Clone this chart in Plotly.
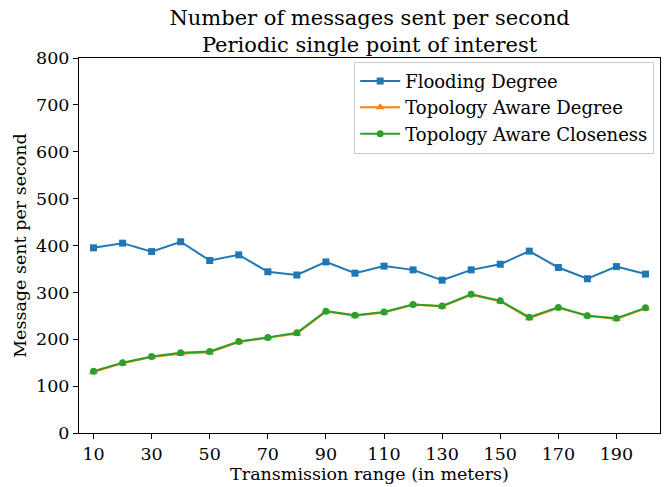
import plotly.graph_objects as go

# transmission range (m)
ranges = [10, 20, 30, 40, 50, 60, 70, 80, 90, 100,
          110, 120, 130, 140, 150, 160, 170, 180, 190, 200]

flooding_degree = [395, 405, 387, 408, 368, 380, 344, 337, 365, 341,
                   356, 348, 326, 348, 360, 388, 353, 329, 355, 339]
topo_degree = [130, 149, 162, 169, 172, 194, 203, 212, 259, 250,
               257, 274, 270, 295, 281, 245, 267, 250, 243, 266]
topo_closeness = [132, 150, 163, 171, 174, 195, 204, 214, 260, 251,
                  258, 274, 271, 296, 282, 247, 268, 250, 245, 267]

x_ticks = [10, 30, 50, 70, 90, 110, 130, 150, 170, 190]
y_ticks = [0, 100, 200, 300, 400, 500, 600, 700, 800]

FONT = "DejaVu Serif"

fig = go.Figure()
fig.add_trace(go.Scatter(x=ranges, y=flooding_degree, mode="lines+markers",
                         name="Flooding Degree",
                         line=dict(color="#1f77b4", width=2),
                         marker=dict(symbol="square", size=7, color="#1f77b4")))
fig.add_trace(go.Scatter(x=ranges, y=topo_degree, mode="lines+markers",
                         name="Topology Aware Degree",
                         line=dict(color="#ff7f0e", width=2),
                         marker=dict(symbol="triangle-up", size=8, color="#ff7f0e")))
fig.add_trace(go.Scatter(x=ranges, y=topo_closeness, mode="lines+markers",
                         name="Topology Aware Closeness",
                         line=dict(color="#2ca02c", width=2),
                         marker=dict(symbol="circle", size=7, color="#2ca02c")))

axis_style = dict(showline=True, linecolor="black", linewidth=1, mirror=True,
                  ticks="outside", ticklen=5, tickcolor="black", showgrid=False,
                  zeroline=False, tickfont=dict(family=FONT, size=17.5, color="black"))

fig.update_xaxes(range=[5, 205], tickvals=x_ticks,
                 title=dict(text="Transmission range (in meters)",
                            font=dict(family=FONT, size=17.5, color="black"), standoff=1),
                 **axis_style)
fig.update_yaxes(range=[0, 800], tickvals=y_ticks,
                 title=dict(text="Message sent per second",
                            font=dict(family=FONT, size=17.5, color="black"), standoff=4),
                 **axis_style)

fig.update_layout(
    width=667, height=487,
    margin=dict(l=79, r=7, t=58, b=54),
    paper_bgcolor="white", plot_bgcolor="white",
    title=dict(text="Number of messages sent per second<br>Periodic single point of interest",
               font=dict(family=FONT, size=21, color="black"),
               x=369.5 / 667, xanchor="center",
               yref="container", y=1 - 25 / 487, yanchor="middle"),
    legend=dict(x=0.99, y=0.99, xanchor="right", yanchor="top",
                bgcolor="rgba(255,255,255,0.8)", bordercolor="#cccccc", borderwidth=1,
                font=dict(family=FONT, size=18, color="black"),
                itemwidth=40, tracegroupgap=0),
    showlegend=True,
)

fig.write_html("out.html", config={"displayModeBar": False},
               post_script="document.body.style.margin='0';")
